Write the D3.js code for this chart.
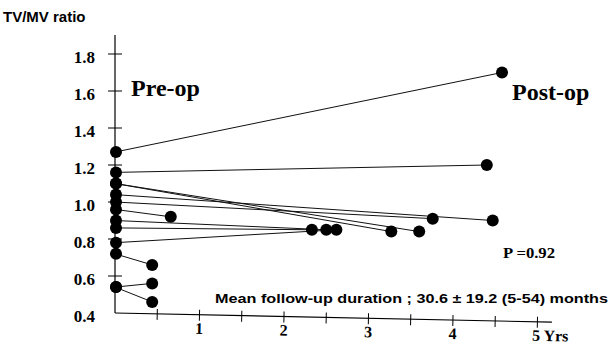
<!DOCTYPE html>
<html>
<head>
<meta charset="utf-8">
<script src="https://cdn.jsdelivr.net/npm/d3@7"></script>
<style>
  body { margin: 0; background: #fff; }
  svg { display: block; }
</style>
</head>
<body>
<svg id="chart" width="614" height="354"></svg>
<script>
// pre-op ratio, follow-up time (years) and post-op ratio for each patient
const preOp = [1.27, 1.16, 1.10, 1.10, 1.04, 1.00, 0.96, 0.90, 0.86, 0.78, 0.72, 0.54, 0.54];
const followUp = [4.58, 4.40, 3.60, 3.27, 4.47, 3.76, 0.66, 2.50, 2.33, 2.62, 0.44, 0.44, 0.44];
const postOp = [1.70, 1.20, 0.84, 0.84, 0.90, 0.91, 0.92, 0.85, 0.85, 0.85, 0.66, 0.56, 0.46];

const yTicks = [0.4, 0.6, 0.8, 1.0, 1.2, 1.4, 1.6, 1.8];
const xTicks = [0.5, 1, 1.5, 2, 2.5, 3, 3.5, 4, 4.5, 5];
const xTickLabels = { 1: "1", 2: "2", 3: "3", 4: "4", 5: "5 Yrs" };

const svg = d3.select("#chart");

const x = d3.scaleLinear().domain([0, 5]).range([115, 537.5]);
const y = d3.scaleLinear().domain([0.4, 1.8]).range([313, 54]);

const serif = "'Liberation Serif', 'Times New Roman', serif";
const sans = "'Liberation Sans', Arial, sans-serif";

// y axis
svg.append("line")
  .attr("x1", x(0)).attr("x2", x(0))
  .attr("y1", 35).attr("y2", y(0.4))
  .attr("stroke", "#000").attr("stroke-width", 1.2);

svg.selectAll(".ytick")
  .data(yTicks.filter((d) => d > 0.4))
  .enter()
  .append("line")
  .attr("x1", x(0) - 7).attr("x2", x(0) + 7)
  .attr("y1", (d) => y(d)).attr("y2", (d) => y(d))
  .attr("stroke", "#000");

svg.selectAll(".ylabel")
  .data(yTicks)
  .enter()
  .append("text")
  .attr("x", 95)
  .attr("y", (d) => y(d) + 3)
  .attr("dy", "0.35em")
  .attr("text-anchor", "end")
  .attr("font-family", serif)
  .attr("font-weight", "bold")
  .attr("font-size", 17)
  .text((d) => d.toFixed(1));

// x axis (scan is slightly tilted)
const xg = svg.append("g")
  .attr("transform", `rotate(1.2, ${x(0)}, ${y(0.4)})`);

xg.append("line")
  .attr("x1", x(0)).attr("x2", 552)
  .attr("y1", y(0.4)).attr("y2", y(0.4))
  .attr("stroke", "#000").attr("stroke-width", 1.2);

xg.selectAll(".xtick")
  .data(xTicks)
  .enter()
  .append("line")
  .attr("x1", (d) => x(d)).attr("x2", (d) => x(d))
  .attr("y1", y(0.4) - 5).attr("y2", y(0.4) + 6)
  .attr("stroke", "#000");

xg.selectAll(".xlabel")
  .data(xTicks.filter((d) => xTickLabels[d]))
  .enter()
  .append("text")
  .attr("x", (d) => (d === 5 ? x(d) - 5 : x(d)))
  .attr("y", y(0.4) + 19)
  .attr("text-anchor", (d) => (d === 5 ? "start" : "middle"))
  .attr("font-family", serif)
  .attr("font-weight", "bold")
  .attr("font-size", 16)
  .text((d) => xTickLabels[d]);

// connecting lines
svg.selectAll(".pair")
  .data(preOp)
  .enter()
  .append("line")
  .attr("x1", x(0))
  .attr("y1", (d) => y(d))
  .attr("x2", (d, i) => x(followUp[i]))
  .attr("y2", (d, i) => y(postOp[i]))
  .attr("stroke", "#111")
  .attr("stroke-width", 1);

// pre-op dots
svg.selectAll(".pre")
  .data(preOp)
  .enter()
  .append("circle")
  .attr("cx", x(0) + 1)
  .attr("cy", (d) => y(d))
  .attr("r", 6)
  .attr("fill", "#000");

// post-op dots
svg.selectAll(".post")
  .data(postOp)
  .enter()
  .append("circle")
  .attr("cx", (d, i) => x(followUp[i]))
  .attr("cy", (d) => y(d))
  .attr("r", 6)
  .attr("fill", "#000");

// titles and notes
svg.append("text")
  .attr("x", 3).attr("y", 22)
  .attr("font-family", sans)
  .attr("font-weight", "bold")
  .attr("font-size", 15)
  .text("TV/MV ratio");

svg.append("text")
  .attr("x", 131).attr("y", 96)
  .attr("font-family", serif)
  .attr("font-weight", "bold")
  .attr("font-size", 24)
  .text("Pre-op");

svg.append("text")
  .attr("x", 512).attr("y", 100)
  .attr("font-family", serif)
  .attr("font-weight", "bold")
  .attr("font-size", 24)
  .text("Post-op");

svg.append("text")
  .attr("x", 503).attr("y", 258)
  .attr("font-family", serif)
  .attr("font-weight", "bold")
  .attr("font-size", 14)
  .attr("textLength", 52)
  .attr("lengthAdjust", "spacingAndGlyphs")
  .text("P =0.92");

svg.append("text")
  .attr("x", 215).attr("y", 303)
  .attr("font-family", sans)
  .attr("font-weight", "bold")
  .attr("font-size", 13)
  .attr("textLength", 393)
  .attr("lengthAdjust", "spacingAndGlyphs")
  .text("Mean follow-up duration ; 30.6 \u00b1 19.2 (5-54) months");
</script>
</body>
</html>
